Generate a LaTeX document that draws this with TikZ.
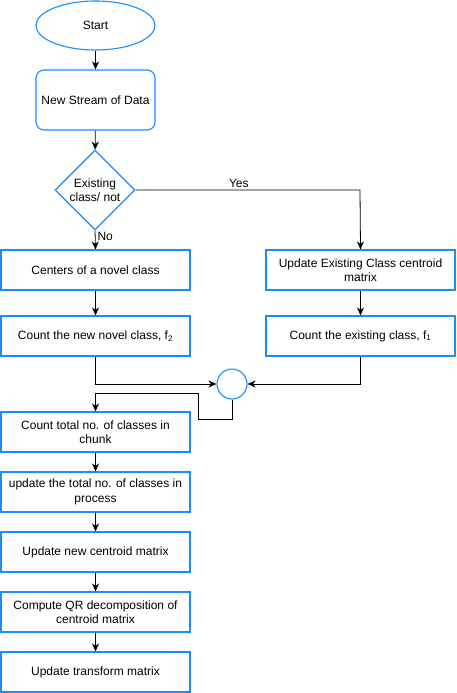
\documentclass[tikz,border=0pt]{standalone}
\usepackage{fontspec}
\setmainfont{Liberation Sans}
\usetikzlibrary{shapes.geometric,arrows.meta}
\definecolor{bblue}{HTML}{1A8CFF}
\begin{document}
\begin{tikzpicture}[x=1pt,y=-1pt,
  font=\fontsize{12}{14.4}\selectfont,
  box/.style={draw=bblue,line width=1.1pt,minimum width=189pt,minimum height=40pt,
    align=center,inner sep=0pt},
  arr/.style={line width=0.8pt,-{Stealth[length=8pt,width=7pt,inset=2.5pt]}},
  ln/.style={line width=0.8pt}]
\useasboundingbox (0,0) rectangle (456,693);
\node[draw=bblue,line width=1.1pt,ellipse,minimum width=119pt,minimum height=49pt,inner sep=0pt] (start) at (95.5,25.5) {Start};
\node[draw=bblue,line width=1.1pt,rounded corners=8pt,minimum width=119pt,minimum height=60pt,inner sep=0pt] (stream) at (95.5,100) {New Stream of Data};
\node[draw=bblue,line width=1.1pt,diamond,minimum width=80pt,minimum height=80pt,inner sep=0pt] (dec) at (95,190) {};
\node[align=center,inner sep=0pt] (dectext) at (dec.center) {Existing\\class/ not};
\node[box] (centers) at (95.5,270) {Centers of a novel class};
\node[box] (novel) at (95.5,336) {Count the new novel class, f\textsubscript{2}};
\node[box] (upd) at (360.5,270) {Update Existing Class centroid\\matrix};
\node[box] (exist) at (360.5,336) {Count the existing class, f\textsubscript{1}};
\node[draw=bblue,line width=1.1pt,circle,minimum size=30pt,inner sep=0pt] (circ) at (232,384) {};
\node[box] (total) at (95.5,432) {Count total no. of classes in\\chunk};
\node[box] (updtot) at (95.5,492) {update the total no. of classes in\\process};
\node[box] (newcent) at (95.5,552) {Update new centroid matrix};
\node[box] (qr) at (95.5,612) {Compute QR decomposition of\\centroid matrix};
\node[box] (trans) at (95.5,672) {Update transform matrix};
\coordinate (yescorner) at (360,190);
\coordinate (loopa) at (232,419);
\coordinate (loopb) at (198,393);
\draw[arr] (start) -- (stream);
\draw[arr] (stream) -- (dec);
\draw[arr] (dec.south) -- node[pos=0.3,anchor=west,inner sep=2pt] (nolbl) {No} (centers.north);
\draw[arr] (dec.east) -- node[pos=0.46,above,inner sep=1.5pt] (yeslbl) {Yes} (yescorner) -- (upd.north);
\draw[arr] (centers) -- (novel);
\draw[arr] (upd) -- (exist);
\draw[arr] (novel.south) |- (circ.west);
\draw[arr] (exist.south) |- (circ.east);
\draw[arr] (circ.south) -- (loopa) -| (loopb) -| (total.north);
\draw[arr] (total) -- (updtot);
\draw[arr] (updtot) -- (newcent);
\draw[arr] (newcent) -- (qr);
\draw[arr] (qr) -- (trans);
\end{tikzpicture}
\end{document}
